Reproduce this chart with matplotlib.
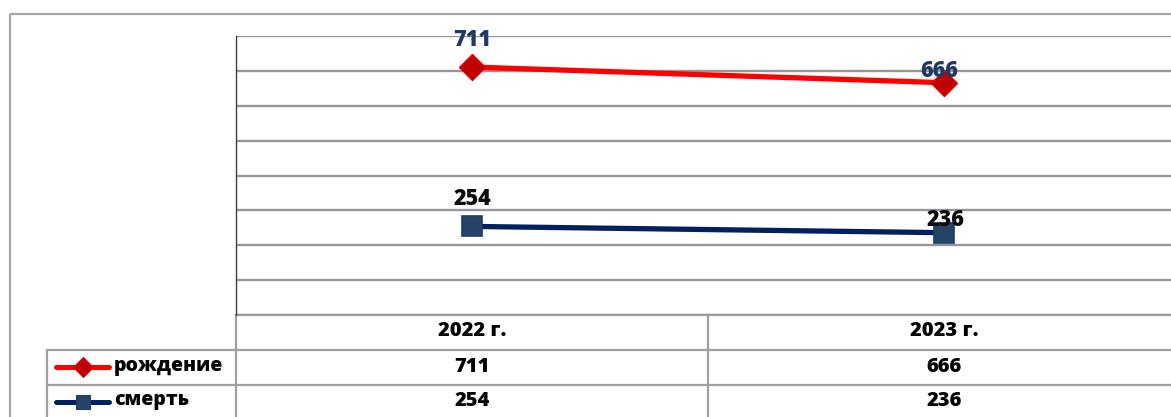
import matplotlib
matplotlib.use("Agg")
import matplotlib.pyplot as plt
from matplotlib.transforms import blended_transform_factory
from matplotlib.patches import Rectangle

# ---- data ----
categories = ["2022 г.", "2023 г."]
series_names = ["рождение", "смерть"]
births = [711, 666]
deaths = [254, 236]
y_max = 800
y_step = 100

plt.rcParams['font.family'] = ['Open Sans', 'DejaVu Sans']

W, H = 1171, 417
fig = plt.figure(figsize=(W / 100, H / 100), dpi=100)
fig.patch.set_facecolor('white')

# overlay axes in pixel coordinates (for frame / table)
ov = fig.add_axes([0, 0, 1, 1])
ov.set_xlim(0, W)
ov.set_ylim(H, 0)
ov.axis('off')

# outer chart border
ov.add_patch(Rectangle((9.5, 13.5), W + 20, H + 20, fill=False,
                       ec='#A5A5A5', lw=1.6, zorder=1))

# plot area
left, right, top, bottom = 236, 1180, 36, 315
ax = fig.add_axes([left / W, 1 - bottom / H, (right - left) / W, (bottom - top) / H])
ax.set_xlim(-0.5, len(categories) - 0.5)
ax.set_ylim(0, y_max)
ax.set_yticks(range(0, y_max + 1, y_step))
ax.set_xticks([])
ax.yaxis.grid(True, color='#969696', lw=1.7)
ax.set_axisbelow(True)
ax.tick_params(left=False, labelleft=False)
for s in ['top', 'right', 'bottom']:
    ax.spines[s].set_visible(False)
ax.spines['left'].set_color('#2b4a4f')
ax.spines['left'].set_linewidth(1.0)
ax.patch.set_alpha(0)

x = list(range(len(categories)))

red, red_fill = '#FF0000', '#C00000'
navy, navy_fill = '#002060', '#264466'

ax.plot(x, births, color=red, lw=3.8, marker='D', ms=13.5, mfc=red_fill,
        mec='#E00000', mew=1, zorder=3, clip_on=False)
ax.plot(x, deaths, color=navy, lw=3.8, marker='s', ms=14, mfc=navy_fill,
        mec='#1F3A70', mew=1.2, zorder=3, clip_on=False)

# data labels
lbl_font = dict(fontsize=15.5, fontweight='heavy', ha='center', va='center')
offs_b = [(0, 19.5), (-3.6, 8.3)]
offs_d = [(0, 19.5), (1.4, 9.0)]
for i, v in enumerate(births):
    ax.annotate(str(v), (x[i], v), xytext=offs_b[i], textcoords='offset points',
                color='#1F3864', zorder=5, annotation_clip=False, **lbl_font)
for i, v in enumerate(deaths):
    ax.annotate(str(v), (x[i], v), xytext=offs_d[i], textcoords='offset points',
                color='#0d0d0d', zorder=5, annotation_clip=False, **lbl_font)

# ---- data table ----
grid_c = '#A0A0A0'
glw = 1.6
bt = blended_transform_factory(ax.transData, ov.transData)

row_top, row1, row2 = 314.5, 349.5, 384.5
# horizontal lines
ov.plot([left, W], [row_top, row_top], color=grid_c, lw=glw)
ov.plot([47, W], [row1, row1], color=grid_c, lw=glw)
ov.plot([47, W], [row2, row2], color=grid_c, lw=glw)
# vertical lines
for xb in [i - 0.5 for i in range(len(categories))]:
    ov.plot([xb, xb], [row_top, H + 5], color=grid_c, lw=glw, transform=bt, clip_on=False)
ov.plot([47, 47], [row1, H + 5], color=grid_c, lw=glw)

tbl_font = dict(fontsize=14.5, fontweight='heavy', ha='center', va='center', color='black')
for i, c in enumerate(categories):
    ov.text(x[i], 331, c, transform=bt, **tbl_font)
    ov.text(x[i], 367, str(births[i]), transform=bt, **tbl_font)
    ov.text(x[i], 401.5, str(deaths[i]), transform=bt, **tbl_font)

# legend keys in table
ov.plot([56, 82.5, 109], [367, 367, 367], color=red, lw=3.6, solid_capstyle='round',
        marker='D', ms=10, mfc=red_fill, mec='#E00000', mew=0.8, markevery=[1])
ov.plot([56, 82.5, 109], [402, 402, 402], color=navy, lw=3.6, solid_capstyle='round',
        marker='s', ms=10.5, mfc=navy_fill, mec='#1F3A70', mew=0.8, markevery=[1])
ov.text(114, 366.5, series_names[0], ha='left', va='center', fontsize=14,
        fontweight='heavy', color='black')
ov.text(114, 400.5, series_names[1], ha='left', va='center', fontsize=14,
        fontweight='heavy', color='black')

fig.savefig('out.png', dpi=100)
